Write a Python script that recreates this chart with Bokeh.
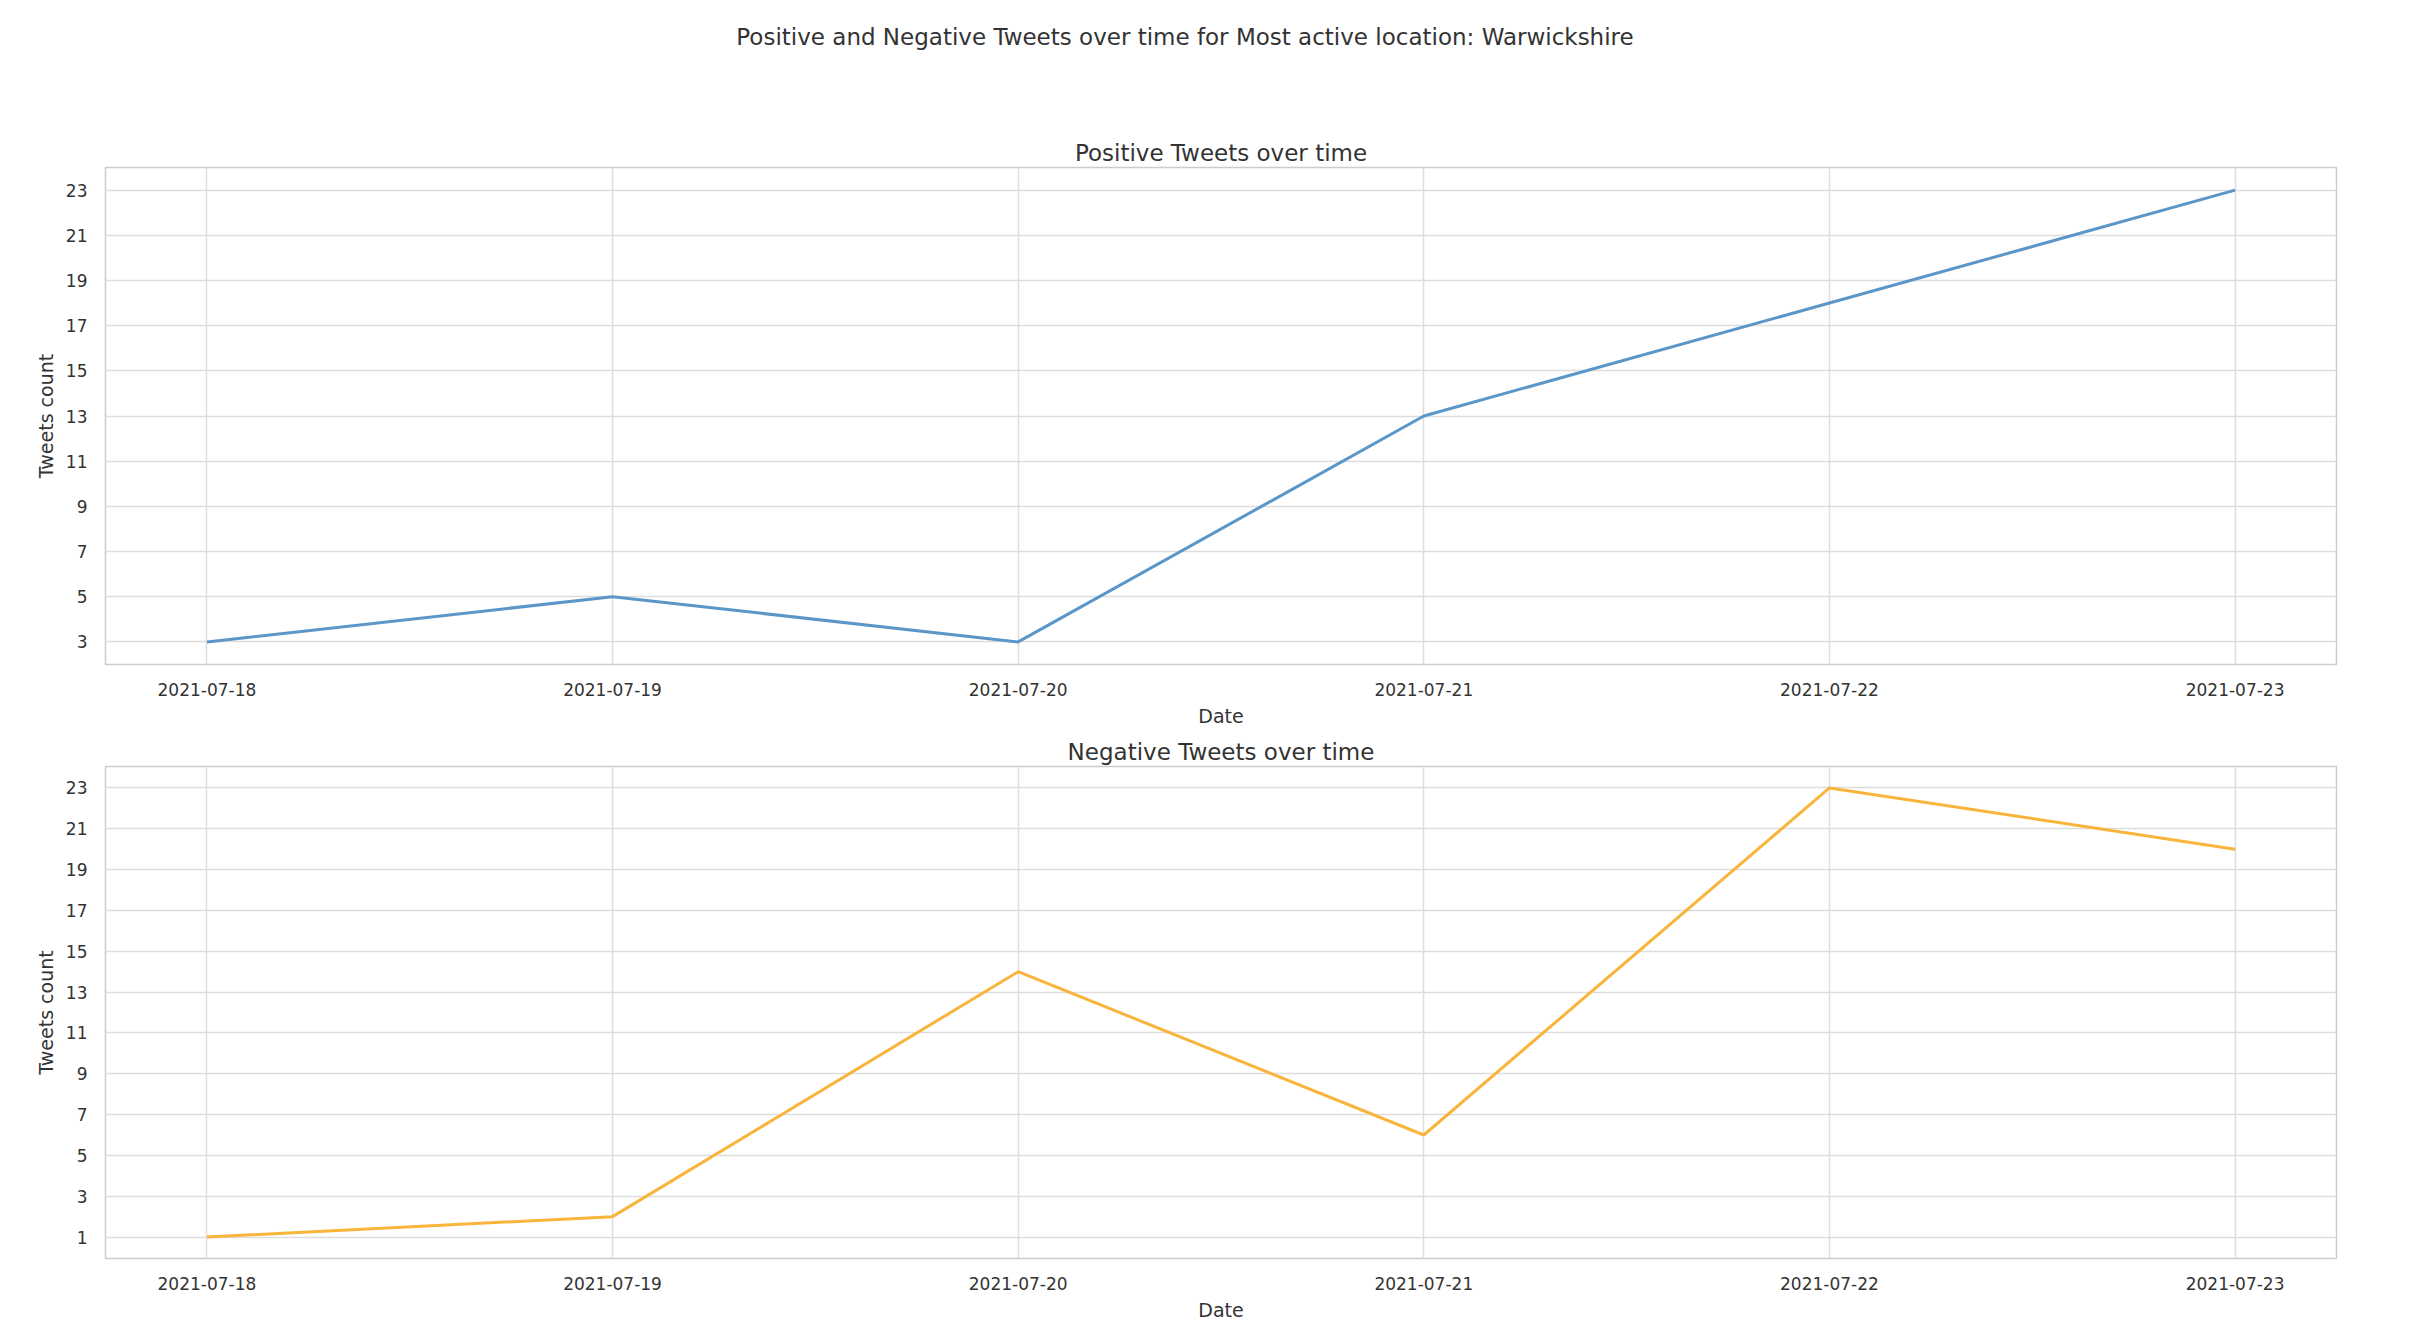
from bokeh.plotting import figure
from bokeh.layouts import column
from bokeh.models import Div, FixedTicker, Range1d
from bokeh.embed import file_html
from bokeh.resources import INLINE

dates = ["2021-07-18", "2021-07-19", "2021-07-20", "2021-07-21", "2021-07-22", "2021-07-23"]
positive = [3, 5, 3, 13, 18, 23]
negative = [1, 2, 14, 6, 23, 20]
pos_ticks = list(range(3, 24, 2))
neg_ticks = list(range(1, 24, 2))

FONT = "DejaVu Sans"
x = list(range(len(dates)))

def make(title, ys, color, yticks, yr, h, top):
    p = figure(width=2381, height=h, output_backend="svg", toolbar_location=None,
               x_range=Range1d(-0.25, len(dates) - 0.75), y_range=Range1d(*yr),
               min_border_left=105, min_border_right=45, min_border_top=top, min_border_bottom=70)
    p.title.text = title
    p.title.align = "center"
    p.title.text_font = FONT
    p.title.text_font_size = "23px"
    p.title.text_font_style = "normal"
    p.title.text_color = "#333333"
    p.title.standoff = 4
    p.line(x, ys, color=color, line_width=3)
    p.xaxis.ticker = FixedTicker(ticks=x)
    p.xaxis.major_label_overrides = {i: d for i, d in enumerate(dates)}
    p.yaxis.ticker = FixedTicker(ticks=yticks)
    p.xaxis.axis_label = "Date"
    p.yaxis.axis_label = "Tweets count"
    for ax in (p.xaxis[0], p.yaxis[0]):
        ax.axis_line_color = None
        ax.major_tick_line_color = None
        ax.minor_tick_line_color = None
        ax.major_label_text_font = FONT
        ax.major_label_text_font_size = "17px"
        ax.major_label_text_color = "#333333"
        ax.axis_label_text_font = FONT
        ax.axis_label_text_font_size = "19px"
        ax.axis_label_text_font_style = "normal"
        ax.axis_label_text_color = "#333333"
        ax.axis_label_standoff = 6
        ax.major_label_standoff = 12
    p.grid.grid_line_color = "#dddddd"
    p.grid.grid_line_width = 1.5
    p.outline_line_color = "#cccccc"
    p.outline_line_width = 1.5
    return p

p1 = make("Positive Tweets over time", positive, "#5a96c8", pos_ticks, (2, 24), 672, 105)
p2 = make("Negative Tweets over time", negative, "#f9b43c", neg_ticks, (-0.05, 24.05), 594, 27)

div = Div(text="Positive and Negative Tweets over time for Most active location: Warwickshire",
          width=2360, height=52,
          styles={"font-family": FONT, "font-size": "23px", "color": "#333333",
                  "text-align": "center", "padding-top": "16px", "width": "2360px"})

layout = column(div, p1, p2, spacing=0)
open("out.html", "w").write(file_html(layout, INLINE))
